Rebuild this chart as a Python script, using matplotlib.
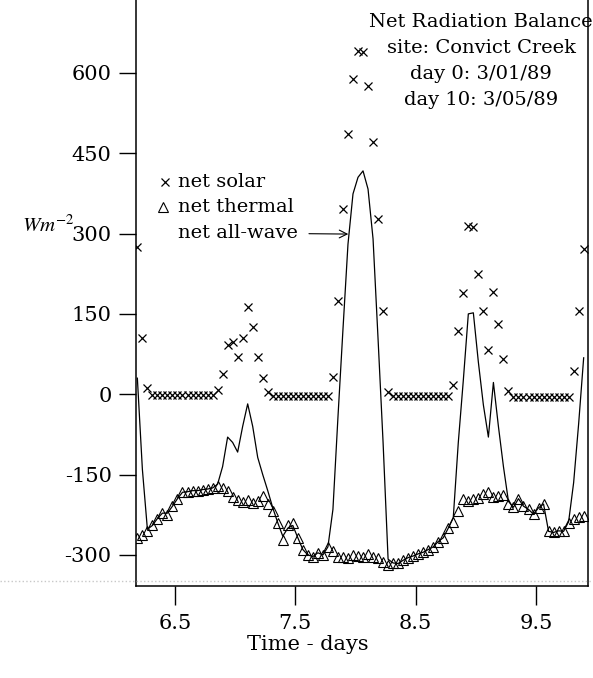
import numpy as np
import matplotlib
matplotlib.use("Agg")
import matplotlib.pyplot as plt
from matplotlib.lines import Line2D

plt.rcParams["font.family"] = ["DejaVu Serif"]
plt.rcParams["mathtext.fontset"] = "stix"

# -------------------------
# Data (hourly samples)
# -------------------------
START_DAY = 6.1875
hours = np.arange(90)

net_solar = [
    275, 105, 11,
    -2, -2, -2, -2, -2, -2, -2, -2, -2, -2, -2, -2, -2,
    8, 37, 92, 97, 69, 105, 162, 125, 69, 30, 5,
    -4, -4, -4, -4, -4, -4, -4, -4, -4, -4, -4, -4,
    32, 174, 346, 486, 588, 641, 639, 575, 471, 327, 155, 4,
    -4, -4, -4, -4, -4, -4, -4, -4, -4, -4, -4, -4,
    17, 118, 189, 314, 312, 224, 155, 82, 190, 131, 65, 6,
    -5, -5, -5, -5, -5, -5, -5, -5, -5, -5, -5, -5,
    43, 155, 271,
]

net_thermal = [
    -268, -262, -255, -245, -232, -222, -226, -209, -195, -183,
    -182, -180, -180, -178, -177, -175, -172, -175, -180, -192,
    -198, -202, -198, -203, -200, -190, -205, -218, -240, -272,
    -245, -240, -268, -290, -300, -303, -296, -300, -285, -292,
    -304, -303, -305, -300, -302, -303, -299, -303, -305, -314,
    -318, -315, -316, -310, -305, -302, -298, -295, -290, -285,
    -275, -268, -250, -238, -218, -196, -200, -195, -193, -186,
    -183, -192, -190, -188, -205, -211, -195, -209, -215, -224,
    -212, -205, -256, -258, -255, -256, -240, -233, -230, -228,
]

net_allwave = [
    30, -140, -252, -245, -232, -222, -222, -209, -195, -183,
    -182, -180, -180, -178, -177, -175, -168, -135, -80, -90,
    -108, -60, -18, -60, -118, -150, -180, -212, -240, -265,
    -250, -245, -268, -290, -300, -303, -296, -300, -285, -215,
    -43, 121, 280, 374, 405, 417, 383, 290, 103, -90,
    -308, -315, -316, -310, -305, -302, -298, -295, -290, -285,
    -275, -268, -250, -230, -90, 26, 150, 152, 60, -20,
    -80, 22, -60, -135, -200, -211, -195, -209, -215, -224,
    -212, -205, -256, -258, -255, -256, -238, -165, -55, 68,
]

days = START_DAY + hours / 24.0

title_lines = ["Net Radiation Balance", "site: Convict Creek",
               "day 0: 3/01/89", "day 10: 3/05/89"]
yticks = [-300, -150, 0, 150, 300, 450, 600]
xticks = [6.5, 7.5, 8.5, 9.5]

# -------------------------
# Figure
# -------------------------
fig = plt.figure(figsize=(5.93, 6.78), dpi=100)
ax = fig.add_axes([0.2293, 0.1357, 0.7623, 0.8643])

ax.plot(days, net_allwave, color="black", lw=0.9, zorder=2)
ax.plot(days, net_thermal, ls="none", marker="^", ms=7, mfc="none",
        mec="black", mew=0.8, zorder=3)
ax.plot(days, net_solar, ls="none", marker="x", ms=6, mec="black",
        mew=0.9, zorder=4)

ax.set_xlim(6.176, 9.932)
ax.set_ylim(-358, 736)
ax.set_xticks(xticks)
ax.set_xticklabels([str(t) for t in xticks])
ax.set_yticks(yticks)
ax.set_yticklabels([str(t) for t in yticks])

ax.spines["top"].set_visible(False)
for s in ["left", "right", "bottom"]:
    ax.spines[s].set_linewidth(1.1)

ax.tick_params(axis="y", direction="out", length=12, width=1, pad=5.5,
               labelsize=15)
ax.tick_params(axis="x", direction="out", length=14, width=1, pad=6,
               labelsize=15)

# title block (top right)
for k, line in enumerate(title_lines):
    ax.text(9.045, 695 - 48.5 * k, line, ha="center", va="center",
            fontsize=14, clip_on=False)

# hand-drawn legend
ax.plot([6.417], [396], ls="none", marker="x", ms=6, mec="black", mew=0.9)
ax.plot([6.40], [350], ls="none", marker="^", ms=7, mfc="none",
        mec="black", mew=0.8)
ax.text(6.525, 396, "net solar", ha="left", va="center", fontsize=14)
ax.text(6.525, 350, "net thermal", ha="left", va="center", fontsize=14)
ax.annotate("net all-wave", xy=(7.94, 299), xytext=(6.525, 301),
            ha="left", va="center", fontsize=14,
            arrowprops=dict(arrowstyle="->", lw=0.8, color="black",
                            shrinkA=6, shrinkB=0))

fig.text(48 / 593, 1 - 225 / 678, r"$Wm^{-2}$", ha="center", va="center",
         fontsize=15)
fig.text(308 / 593, 1 - 645 / 678, "Time - days", ha="center",
         va="center", fontsize=15)

# faint dotted scan line across the page
fig.add_artist(Line2D([0, 1], [1 - 581 / 678] * 2, transform=fig.transFigure,
                      color="#c8c8c8", lw=1, ls=":"))

fig.savefig("out.png", dpi=100)
